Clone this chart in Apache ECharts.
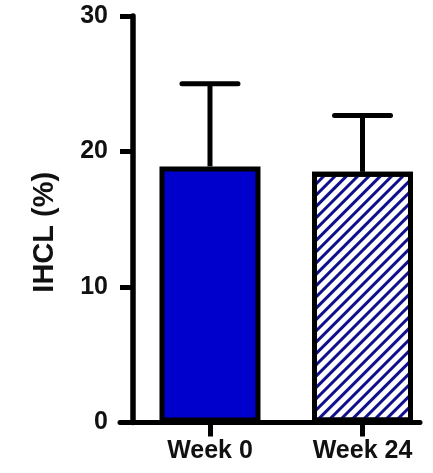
<!DOCTYPE html>
<html>
<head>
<meta charset="utf-8">
<script src="https://cdn.jsdelivr.net/npm/echarts@6/dist/echarts.min.js"></script>
<style>html,body{margin:0;padding:0;background:#fff;}#c{width:433px;height:473px;}</style>
</head>
<body>
<div id="c"></div>
<script>
var categories = ['Week 0', 'Week 24'];
var means = [18.9, 18.5];
var sdUpper = [6.1, 4.15];
var yTicks = [0, 10, 20, 30];
var yTitle = 'IHCL (%)';

var chart = echarts.init(document.getElementById('c'), null, {renderer: 'canvas'});
var font = 'Liberation Sans, Arial, sans-serif';

var barData = means.map(function (v, i) {
  var item = {value: [i, v]};
  if (i === 0) {
    item.itemStyle = {color: '#0000cc'};
  } else {
    item.itemStyle = {
      color: '#ffffff',
      decal: {
        symbol: 'rect',
        symbolSize: 1,
        dashArrayX: [1, 0],
        dashArrayY: [2.5, 4.5],
        rotation: -Math.PI / 4,
        color: '#10108c'
      }
    };
  }
  return item;
});

var errData = means.map(function (v, i) { return [i, v, v + sdUpper[i]]; });

chart.setOption({
  animation: false,
  backgroundColor: '#fff',
  grid: {left: 120, right: 13, top: 16, bottom: 50.5, containLabel: false},
  xAxis: {
    type: 'value',
    min: -0.59,
    max: 1.377,
    splitLine: {show: false},
    axisLine: {show: true, onZero: false, lineStyle: {color: '#000', width: 5}},
    axisTick: {show: true, customValues: [0, 1], length: 14, lineStyle: {color: '#000', width: 5}},
    axisLabel: {
      show: true,
      customValues: [0, 1],
      margin: 16,
      color: '#111',
      fontFamily: font,
      fontWeight: 'bold',
      fontSize: 25,
      formatter: function (v) { return categories[Math.round(v)] || ''; }
    }
  },
  yAxis: {
    type: 'value',
    min: 0,
    max: 30,
    interval: 10,
    offset: -13,
    splitLine: {show: false},
    axisLine: {show: true, onZero: false, lineStyle: {color: '#000', width: 5.5}},
    axisTick: {show: true, length: 13, lineStyle: {color: '#000', width: 5}},
    axisLabel: {
      margin: 25,
      color: '#111',
      fontFamily: font,
      fontWeight: 'bold',
      fontSize: 25
    },
    name: yTitle,
    nameLocation: 'middle',
    nameGap: 74,
    nameTextStyle: {
      color: '#111',
      fontFamily: font,
      fontWeight: 'bold',
      fontSize: 29,
      padding: [0, 26, 0, 0]
    }
  },
  series: [
    {
      type: 'custom',
      z: 1,
      data: errData,
      renderItem: function (params, api) {
        var x = api.value(0);
        var p0 = api.coord([x, api.value(1)]);
        var p1 = api.coord([x, api.value(2)]);
        var half = 28;
        return {
          type: 'group',
          children: [
            {type: 'line', shape: {x1: p0[0], y1: p0[1], x2: p1[0], y2: p1[1]}, style: {stroke: '#000', lineWidth: 5}},
            {type: 'line', shape: {x1: p1[0] - half, y1: p1[1], x2: p1[0] + half, y2: p1[1]}, style: {stroke: '#000', lineWidth: 5, lineCap: 'round'}}
          ]
        };
      }
    },
    {
      type: 'bar',
      z: 2,
      barWidth: 101,
      data: barData,
      itemStyle: {borderColor: '#000', borderWidth: 5}
    }
  ]
});
</script>
</body>
</html>
